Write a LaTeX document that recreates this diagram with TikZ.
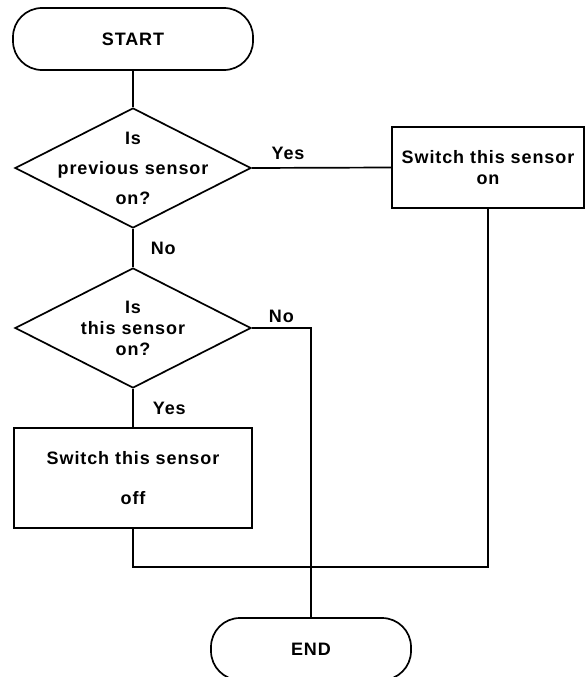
\documentclass[tikz,border=0pt]{standalone}
\usepackage{fontspec}
\setmainfont{Liberation Sans}[LetterSpace=5]
\usepackage{tikz}
\usetikzlibrary{positioning,shapes,arrows.meta}
\newcommand{\chartfont}{\fontsize{18}{21}\selectfont\bfseries}
\tikzstyle{term}=[%
      rectangle, rounded corners=29pt, draw=black, line width=1.7pt,
      minimum width=240pt, minimum height=62pt, inner sep=0pt, font=\chartfont
]
\tikzstyle{decision}=[%
      diamond, draw=black, line width=1.7pt,
      minimum width=236pt, minimum height=120pt, inner sep=0pt
]
\tikzstyle{qtext}=[%
      align=center, inner sep=0pt, font=\chartfont
]
\tikzstyle{process}=[%
      rectangle, draw=black, line width=1.7pt,
      align=center, inner sep=0pt, font=\chartfont
]
\tikzstyle{answer}=[%
      inner sep=2pt, font=\chartfont
]

\begin{document}
\begin{tikzpicture}[x=1pt, y=-1pt, line width=1.7pt]
    \useasboundingbox (0,0) rectangle (585,677);

    \node[term]     (start)     at (133,39)    {START};
    \node[decision] (prev)      at (133,168)   {};
    \node[qtext]    (prevtext)  at (prev)      {Is\\[9pt]previous sensor\\[9pt]on?};
    \node[process, minimum width=192pt, minimum height=81pt]
                    (on)        at (488,167.5) {Switch this sensor\\on};
    \node[decision] (this)      at (133,328)   {};
    \node[qtext]    (thistext)  at (this)      {Is\\this sensor\\on?};
    \node[process, minimum width=238pt, minimum height=100pt]
                    (off)       at (133,478)   {Switch this sensor\\[19pt]off};
    \node[term, minimum width=200pt]
                    (end)       at (311,649)   {END};
    \coordinate     (merge)     at (488,567);

    \draw (start) -- (prev);
    \draw (prev.east) -- node[answer, pos=0.26, above=5pt] {Yes} (on.west);
    \draw (prev) -- node[answer, right=15pt] {No} (this);
    \draw (this.east) -| node[answer, pos=0.25, above=2pt] {No} (end.north);
    \draw (this) -- node[answer, right=17pt] {Yes} (off);
    \draw (off.south) |- (merge) -- (on.south);

\end{tikzpicture}
\end{document}
